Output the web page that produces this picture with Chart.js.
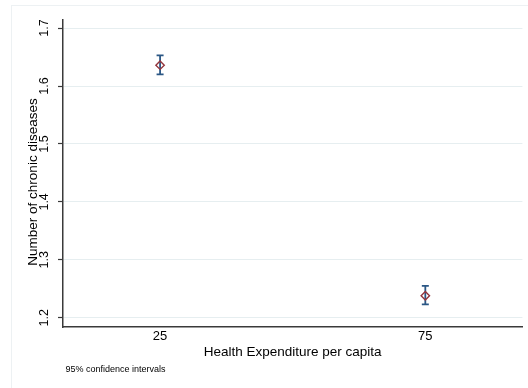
<!DOCTYPE html>
<html>
<head>
<meta charset="utf-8">
<script src="https://cdn.jsdelivr.net/npm/chart.js@4/dist/chart.umd.min.js"></script>
<style>
  html, body { margin: 0; padding: 0; background: #ffffff; }
  #wrap { width: 528px; height: 388px; }
</style>
</head>
<body>
<div id="wrap"><canvas id="c" width="528" height="388"></canvas></div>
<script>
// Predicted number of chronic diseases by health expenditure per capita, with 95% CIs
const expenditure = [25, 75];
const meanDiseases = [1.636, 1.238];
const ciLower = [1.620, 1.223];
const ciUpper = [1.653, 1.255];
const xTickValues = [25, 75];
const yTickValues = [1.2, 1.3, 1.4, 1.5, 1.6, 1.7];
const yTickLabels = ['1.2', '1.3', '1.4', '1.5', '1.6', '1.7'];
const xTickLabels = ['25', '75'];

const FONT = '"Liberation Sans", Arial, Helvetica, sans-serif';
const CI_COLOR = '#2b5785';
const MARK_COLOR = '#93343c';

// Faint outer frame of the graph region
const framePlugin = {
  id: 'frame',
  beforeDraw(chart) {
    const ctx = chart.ctx;
    ctx.save();
    ctx.fillStyle = '#ffffff';
    ctx.fillRect(0, 0, chart.width, chart.height);
    ctx.strokeStyle = '#edf1f3';
    ctx.lineWidth = 1;
    ctx.strokeRect(11.5, 5.5, chart.width, chart.height);
    ctx.restore();
  }
};

// Capped confidence-interval spikes drawn beneath the point markers
const ciPlugin = {
  id: 'ciBars',
  beforeDatasetsDraw(chart) {
    const ctx = chart.ctx;
    const xs = chart.scales.x, ys = chart.scales.y;
    ctx.save();
    ctx.strokeStyle = CI_COLOR;
    ctx.lineWidth = 1.8;
    expenditure.forEach((xv, i) => {
      const px = xs.getPixelForValue(xv);
      const top = ys.getPixelForValue(ciUpper[i]);
      const bot = ys.getPixelForValue(ciLower[i]);
      ctx.beginPath();
      ctx.moveTo(px, top); ctx.lineTo(px, bot);
      ctx.moveTo(px - 3.5, top); ctx.lineTo(px + 3.5, top);
      ctx.moveTo(px - 3.5, bot); ctx.lineTo(px + 3.5, bot);
      ctx.stroke();
    });
    ctx.restore();
  }
};

// Tick labels, axis titles and the note
const labelPlugin = {
  id: 'labels',
  afterDraw(chart) {
    const ctx = chart.ctx;
    const xs = chart.scales.x, ys = chart.scales.y;
    ctx.save();
    ctx.fillStyle = '#000000';
    ctx.textAlign = 'center';
    ctx.textBaseline = 'alphabetic';

    // y tick labels, rotated (baseline toward the axis)
    ctx.font = '12.5px ' + FONT;
    yTickValues.forEach((v, i) => {
      const py = ys.getPixelForValue(v);
      ctx.save();
      ctx.translate(48, py);
      ctx.rotate(-Math.PI / 2);
      ctx.fillText(yTickLabels[i], 0, 0);
      ctx.restore();
    });

    // x tick labels
    ctx.font = '13px ' + FONT;
    xTickValues.forEach((v, i) => {
      ctx.fillText(xTickLabels[i], xs.getPixelForValue(v), 340);
    });

    // axis titles
    ctx.font = '13.5px ' + FONT;
    ctx.fillText('Health Expenditure per capita', (chart.chartArea.left + chart.chartArea.right) / 2, 356);
    ctx.save();
    ctx.translate(37, 182);
    ctx.rotate(-Math.PI / 2);
    ctx.fillText('Number of chronic diseases', 0, 0);
    ctx.restore();

    // note
    ctx.font = '9px ' + FONT;
    ctx.textAlign = 'left';
    ctx.fillText('95% confidence intervals', 65.5, 371.5);
    ctx.restore();
  }
};

new Chart(document.getElementById('c'), {
  type: 'scatter',
  data: {
    datasets: [{
      data: expenditure.map((x, i) => ({ x: x, y: meanDiseases[i] })),
      pointStyle: 'rectRot',
      pointRadius: 4.2,
      pointHoverRadius: 4.2,
      pointBorderWidth: 1.4,
      pointBorderColor: MARK_COLOR,
      pointBackgroundColor: 'rgba(255,255,255,0)',
      showLine: false
    }]
  },
  options: {
    responsive: false,
    animation: false,
    devicePixelRatio: 1,
    layout: { padding: { left: 0, right: 3, top: 20, bottom: 0 } },
    plugins: { legend: { display: false }, tooltip: { enabled: false } },
    scales: {
      x: {
        type: 'linear',
        min: 6.7,
        max: 93.3,
        afterBuildTicks(scale) { scale.ticks = xTickValues.map(v => ({ value: v })); },
        afterFit(scale) { scale.height = 61; },
        ticks: { display: false },
        grid: { display: false },
        border: { display: true, color: '#3a3a3a', width: 1.5 }
      },
      y: {
        type: 'linear',
        min: 1.184,
        max: 1.714,
        afterBuildTicks(scale) { scale.ticks = yTickValues.map(v => ({ value: v })); },
        afterFit(scale) { scale.width = 63; },
        ticks: { display: false },
        grid: {
          display: true,
          color: '#e6eef0',
          lineWidth: 1,
          drawTicks: true,
          tickLength: 5,
          tickColor: '#3a3a3a',
          tickWidth: 1.2
        },
        border: { display: true, color: '#3a3a3a', width: 1.5 }
      }
    }
  },
  plugins: [framePlugin, ciPlugin, labelPlugin]
});
</script>
</body>
</html>
